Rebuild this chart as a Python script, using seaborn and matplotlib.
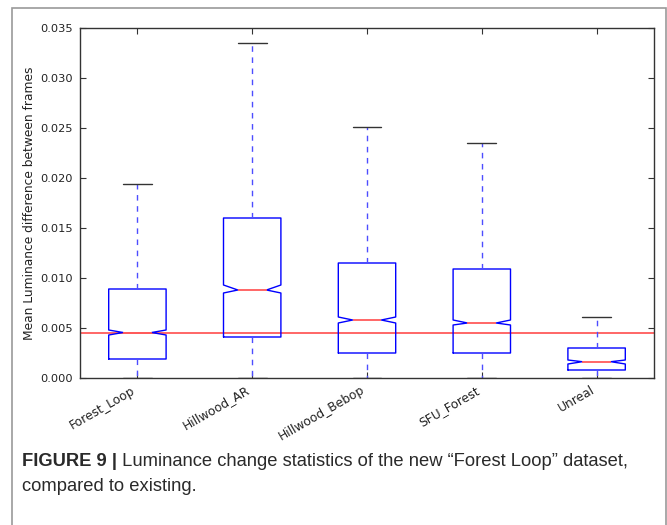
import numpy as np
import pandas as pd
import matplotlib
matplotlib.use("Agg")
import matplotlib.pyplot as plt
import matplotlib.patches as mpatches
from matplotlib.ticker import FormatStrFormatter
import seaborn as sns

# ---- data ----
categories = ["Forest_Loop", "Hillwood_AR", "Hillwood_Bebop", "SFU_Forest", "Unreal"]
whisker_low = [0.0000, 0.0000, 0.0000, 0.0000, 0.0000]
q1 = [0.0019, 0.0041, 0.0025, 0.0025, 0.0008]
median = [0.00455, 0.0088, 0.0058, 0.0055, 0.00163]
q3 = [0.0089, 0.0160, 0.0115, 0.0109, 0.0030]
whisker_high = [0.0194, 0.0335, 0.0251, 0.0235, 0.0061]
notch_low = [0.0043, 0.0085, 0.0055, 0.0053, 0.0014]
notch_high = [0.0048, 0.0093, 0.0061, 0.0058, 0.0018]
reference_level = 0.0045
y_ticks = [0.000, 0.005, 0.010, 0.015, 0.020, 0.025, 0.030, 0.035]
y_label = "Mean Luminance difference between frames"
caption_bold = "FIGURE 9 |"
caption_rest = " Luminance change statistics of the new \u201cForest Loop\u201d dataset,"
caption_line2 = "compared to existing."

# five-number summary per category as long-form data
df = pd.DataFrame({
    "dataset": np.repeat(categories, 5),
    "value": np.ravel(np.column_stack([whisker_low, q1, median, q3, whisker_high])),
})

# box statistics with the notch intervals
stats = [dict(med=m, q1=a, q3=b, whislo=lo, whishi=hi, cilo=cl, cihi=ch,
              mean=m, fliers=[], label=c)
         for c, lo, a, m, b, hi, cl, ch in zip(categories, whisker_low, q1, median,
                                                q3, whisker_high, notch_low, notch_high)]

sns.set_style("ticks")
plt.rcParams.update({
    "xtick.direction": "in", "ytick.direction": "in",
    "xtick.top": True, "ytick.right": True,
    "xtick.major.size": 4, "ytick.major.size": 4,
    "axes.edgecolor": "#333333", "axes.linewidth": 1.0,
    "xtick.color": "#333333", "ytick.color": "#333333",
    "font.family": ["DejaVu Sans"],
})

fig = plt.figure(figsize=(6.67, 5.25), dpi=100)
ax = fig.add_axes([80 / 667, 1 - 378 / 525, (654 - 80) / 667, (378 - 28) / 525])

sns.boxplot(data=df, x="dataset", y="value", order=categories, ax=ax,
            width=0.5, fill=False, whis=(0, 100), notch=True, bxpstats=stats,
            linecolor="blue", linewidth=1.0,
            boxprops=dict(color="blue"),
            medianprops=dict(color="#ff5a5a", linewidth=1.3),
            whiskerprops=dict(color="#4d4dff", linestyle=(0, (4, 4)), linewidth=1.0),
            capprops=dict(color="#333333", linewidth=1.0))

ax.axhline(reference_level, color="#ff5a5a", linewidth=1.3, zorder=0.5)

ax.set_xlim(-0.5, len(categories) - 0.5)
ax.set_ylim(0, 0.035)
ax.set_yticks(y_ticks)
ax.yaxis.set_major_formatter(FormatStrFormatter("%.3f"))
ax.set_xlabel("")
ax.set_ylabel(y_label, fontsize=8.8, color="#222222", labelpad=3)
ax.tick_params(axis="y", labelsize=8.2, labelcolor="#222222", pad=5)
ax.tick_params(axis="x", labelsize=8.8, labelcolor="#222222", pad=4)
plt.setp(ax.get_xticklabels(), rotation=30, ha="right")

# outer frame
fig.patches.append(mpatches.Rectangle((12 / 667, -0.01), (666 - 12) / 667, (525 - 8) / 525 + 0.01,
                                      transform=fig.transFigure, fill=False,
                                      edgecolor="#9a9a9a", linewidth=1.2))

# caption
cap_font = ["Liberation Sans", "DejaVu Sans"]
t1 = fig.text(22 / 667, 1 - 466 / 525, caption_bold, fontsize=13.2, fontweight="bold",
              family=cap_font, color="#2a2a2a", va="baseline")
fig.canvas.draw()
bb = t1.get_window_extent(renderer=fig.canvas.get_renderer())
fig.text(bb.x1 / fig.bbox.width, 1 - 466 / 525, caption_rest, fontsize=13.2,
         family=cap_font, color="#2a2a2a", va="baseline")
fig.text(22 / 667, 1 - 491 / 525, caption_line2, fontsize=13.2,
         family=cap_font, color="#2a2a2a", va="baseline")

fig.savefig("out.png", dpi=100, facecolor="white")
